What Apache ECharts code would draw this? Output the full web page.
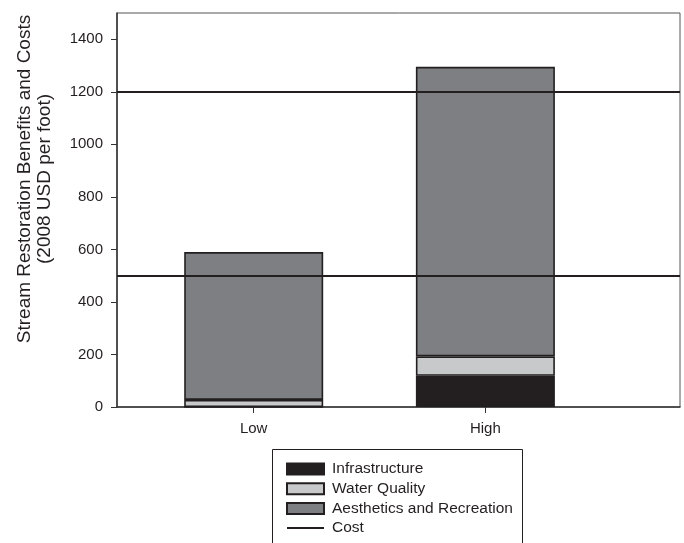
<!DOCTYPE html>
<html>
<head>
<meta charset="utf-8">
<script src="https://cdn.jsdelivr.net/npm/echarts@6/dist/echarts.min.js"></script>
<style>
html,body{margin:0;padding:0;background:#fff;}
#chart{width:684px;height:543px;}
</style>
</head>
<body>
<div id="chart"></div>
<script>
const categories = ['Low', 'High'];
const infrastructure = [0, 119];
const waterQuality = [27, 74];
const aesthetics = [563, 1102];
const costs = [500, 1200];
const yTicks = [0, 200, 400, 600, 800, 1000, 1200, 1400];
const yTitle = ['Stream Restoration Benefits and Costs', '(2008 USD per foot)'];

const ink = '#231f20';
const font = 'Liberation Sans, Arial, sans-serif';
const pos = categories.map((c, i) => i + 1);
// value first, position second so the stack runs along y
const toPairs = arr => arr.map((v, i) => [v, pos[i]]);

const barCommon = (name, data, color) => ({
  name: name,
  type: 'bar',
  stack: 'benefits',
  barWidth: 139,
  encode: { x: 1, y: 0 },
  data: toPairs(data),
  itemStyle: { color: color, borderColor: ink, borderWidth: 1.6 },
  emphasis: { disabled: true }
});

const chart = echarts.init(document.getElementById('chart'), null, { renderer: 'canvas' });
chart.setOption({
  animation: false,
  grid: {
    left: 117, right: 4, top: 13, bottom: 136,
    show: true, borderColor: '#555', borderWidth: 1, backgroundColor: 'transparent'
  },
  xAxis: {
    type: 'value',
    min: 0.41, max: 2.84,
    splitLine: { show: false },
    axisLine: { show: true, onZero: false, lineStyle: { color: '#333', width: 1.5 } },
    axisTick: { show: true, customValues: pos, length: 6, lineStyle: { color: '#333' } },
    axisLabel: {
      customValues: pos,
      formatter: v => categories[Math.round(v) - 1] || '',
      color: ink, fontFamily: font, fontSize: 15, margin: 14
    }
  },
  yAxis: {
    type: 'value',
    min: 0, max: 1500,
    splitLine: { show: false },
    axisLine: { show: true, lineStyle: { color: '#333', width: 1.5 } },
    axisTick: { show: true, customValues: yTicks, length: 6, lineStyle: { color: '#333' } },
    axisLabel: {
      customValues: yTicks,
      formatter: v => String(v),
      color: ink, fontFamily: font, fontSize: 15, margin: 14
    }
  },
  legend: {
    orient: 'vertical',
    left: 272, top: 449,
    padding: [12, 10, 0, 14],
    borderWidth: 0,
    itemWidth: 37, itemHeight: 11,
    itemGap: 3.7,
    selectedMode: false,
    textStyle: { color: ink, fontFamily: font, fontSize: 15.5, lineHeight: 16, padding: [0, 0, 0, 3] },
    data: [
      { name: 'Infrastructure', icon: 'rect' },
      { name: 'Water Quality', icon: 'rect' },
      { name: 'Aesthetics and Recreation', icon: 'rect' },
      { name: 'Cost', icon: 'path://M0,0L0,0ZM0,4.5L37,4.5L37,6.5L0,6.5ZM0,11L0,11Z' }
    ]
  },
  graphic: [{
    type: 'rect',
    shape: { x: 272.5, y: 449.5, width: 250, height: 120 },
    style: { fill: 'none', stroke: ink, lineWidth: 1 },
    silent: true
  }, {
    type: 'text',
    x: 35, y: 179,
    rotation: Math.PI / 2,
    style: {
      text: yTitle.join('\n'),
      fill: ink,
      font: '19px ' + font,
      textAlign: 'center',
      textVerticalAlign: 'middle',
      lineHeight: 20
    }
  }],
  series: [
    barCommon('Infrastructure', infrastructure, ink),
    barCommon('Water Quality', waterQuality, '#c8c9ca'),
    barCommon('Aesthetics and Recreation', aesthetics, '#7e7f83'),
    {
      name: 'Cost',
      type: 'line',
      symbol: 'none',
      data: [],
      lineStyle: { color: ink, width: 2 },
      itemStyle: { color: ink },
      markLine: {
        silent: true,
        symbol: ['none', 'none'],
        label: { show: false },
        lineStyle: { color: ink, width: 2, type: 'solid' },
        data: costs.map(c => ({ yAxis: c }))
      }
    }
  ]
});
</script>
</body>
</html>
